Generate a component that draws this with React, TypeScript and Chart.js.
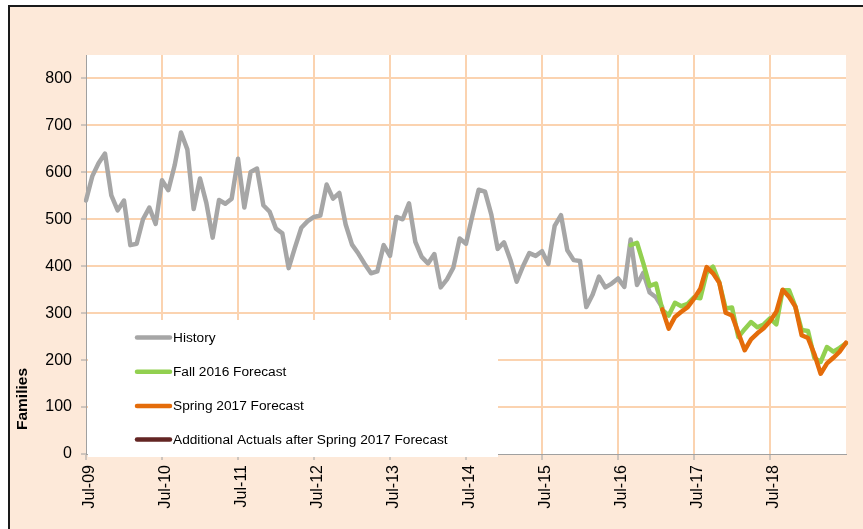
import React, { useEffect, useRef } from 'react';
import { Chart, registerables } from 'chart.js';

Chart.register(...registerables);

// ---------- DATA ----------
const MONTH_NAMES = ['Jan', 'Feb', 'Mar', 'Apr', 'May', 'Jun', 'Jul', 'Aug', 'Sep', 'Oct', 'Nov', 'Dec'];
// Monthly categories Jul-09 .. Jul-19
const categories: string[] = [];
for (let i = 0; i <= 120; i++) {
  const m = (6 + i) % 12;
  const y = 9 + Math.floor((6 + i) / 12);
  categories.push(`${MONTH_NAMES[m]}-${String(y).padStart(2, '0')}`);
}

const xTickLabels = ['Jul-09', 'Jul-10', 'Jul-11', 'Jul-12', 'Jul-13', 'Jul-14', 'Jul-15', 'Jul-16', 'Jul-17', 'Jul-18'];
const yTickValues = [0, 100, 200, 300, 400, 500, 600, 700, 800];

// History: Jul-09 .. Feb-17
const historyStart = 0;
const historyValues = [
  540, 592, 620, 640, 551, 519, 540, 445, 448, 500, 525, 490,
  583, 562, 615, 685, 649, 522, 587, 535, 461, 541, 533, 544,
  629, 525, 601, 608, 530, 516, 480, 470, 396, 440, 482, 496,
  505, 508, 574, 544, 556, 489, 446, 427, 405, 385, 389, 445,
  422, 505, 500, 534, 452, 420, 406, 426, 355, 372, 397, 459,
  448, 507, 563, 559, 510, 437, 451, 414, 367, 400, 428, 422,
  432, 405, 486, 509, 434, 413, 411, 313, 340, 378, 355, 363,
  374, 356, 457, 360, 386, 344, 334, 312,
];

// Fall 2016 Forecast: Sep-16 .. Jul-19
const fallStart = 86;
const fallValues = [
  445, 450, 406, 358, 363, 307, 295, 322, 315, 320, 334, 332,
  386, 399, 365, 310, 312, 249, 266, 281, 270, 276, 289, 276,
  349, 349, 314, 264, 262, 205, 196, 228, 218, 226, 236,
];

// Spring 2017 Forecast: Feb-17 .. Jul-19
const springStart = 91;
const springValues = [
  308, 267, 292, 303, 313, 331, 352, 398, 385, 365, 301, 295,
  258, 221, 244, 257, 268, 283, 303, 350, 335, 314, 253, 247,
  213, 171, 193, 205, 218, 237,
];

// Additional Actuals after Spring 2017 Forecast (none shown)
const additionalStart = 0;
const additionalValues: number[] = [];

function place(start: number, values: number[]): (number | null)[] {
  const out: (number | null)[] = categories.map(() => null);
  values.forEach((v, i) => {
    out[start + i] = v;
  });
  return out;
}

// ---------- STYLE ----------
const FONT = "'Liberation Sans', Arial, sans-serif";
const GRID = '#FBD3B0';
const AXIS = '#A0A0A0';

const bgPlugin = {
  id: 'plotBg',
  beforeDraw(chart: any) {
    const { ctx, chartArea } = chart;
    ctx.save();
    ctx.fillStyle = '#ffffff';
    ctx.fillRect(chartArea.left, chartArea.top, chartArea.right - chartArea.left, chartArea.bottom - chartArea.top);
    ctx.restore();
  },
};

const overlayPlugin = {
  id: 'overlay',
  afterDraw(chart: any) {
    const { ctx, chartArea } = chart;
    ctx.save();
    // legend box inside the plot
    const bx = chartArea.left + 2;
    const by = 313;
    const bw = 410;
    const bh = chartArea.bottom + 3 - by;
    ctx.fillStyle = '#ffffff';
    ctx.fillRect(bx, by, bw, bh);
    const rowY = [330.5, 364.8, 399, 432.5];
    chart.data.datasets.forEach((ds: any, i: number) => {
      const y = rowY[i];
      ctx.strokeStyle = ds.borderColor;
      ctx.lineWidth = 4.5;
      ctx.lineCap = 'round';
      ctx.beginPath();
      ctx.moveTo(chartArea.left + 51, y);
      ctx.lineTo(chartArea.left + 84, y);
      ctx.stroke();
      ctx.fillStyle = '#000';
      ctx.font = `13.7px ${FONT}`;
      ctx.textAlign = 'left';
      ctx.textBaseline = 'middle';
      ctx.fillText(ds.label, chartArea.left + 87, y + 0.5);
    });
    // y-axis title
    ctx.translate(12.5, 392);
    ctx.rotate(-Math.PI / 2);
    ctx.font = `bold 15.5px ${FONT}`;
    ctx.fillStyle = '#000';
    ctx.textAlign = 'center';
    ctx.textBaseline = 'middle';
    ctx.fillText('Families', 0, 0);
    ctx.restore();
  },
};

export default function App() {
  const ref = useRef<HTMLCanvasElement>(null);

  useEffect(() => {
    document.documentElement.style.overflow = 'hidden';
    const lineStyle = {
      borderWidth: 4.5,
      pointRadius: 0,
      pointHoverRadius: 0,
      tension: 0,
      fill: false,
      spanGaps: false,
      borderJoinStyle: 'round' as const,
      borderCapStyle: 'round' as const,
    };
    const chart = new Chart(ref.current as HTMLCanvasElement, {
      type: 'line',
      data: {
        labels: categories,
        datasets: [
          { label: 'History', data: place(historyStart, historyValues), borderColor: '#A6A6A6', backgroundColor: '#A6A6A6', order: 3, ...lineStyle },
          { label: 'Fall 2016 Forecast', data: place(fallStart, fallValues), borderColor: '#92D050', backgroundColor: '#92D050', order: 2, ...lineStyle },
          { label: 'Spring 2017 Forecast', data: place(springStart, springValues), borderColor: '#E46C0A', backgroundColor: '#E46C0A', order: 1, ...lineStyle },
          { label: 'Additional Actuals after Spring 2017 Forecast', data: place(additionalStart, additionalValues), borderColor: '#632523', backgroundColor: '#632523', order: 0, ...lineStyle },
        ],
      },
      options: {
        animation: false,
        responsive: false,
        maintainAspectRatio: false,
        layout: { padding: { left: 0, right: 30, top: 48, bottom: 0 } },
        plugins: {
          legend: { display: false },
          tooltip: { enabled: false },
          title: { display: false },
        },
        scales: {
          x: {
            type: 'category',
            offset: false,
            afterBuildTicks: (scale: any) => {
              scale.ticks = scale.ticks.filter((t: any) => t.value % 12 === 0);
            },
            afterFit: (scale: any) => {
              scale.height = 83;
            },
            grid: {
              display: true,
              color: (c: any) => (c.tick && c.tick.value === 0 ? 'rgba(0,0,0,0)' : GRID),
              lineWidth: 2,
              drawTicks: true,
              tickLength: 6,
              tickColor: AXIS,
              tickWidth: 1,
            },
            border: { display: true, color: AXIS, width: 1 },
            ticks: {
              autoSkip: false,
              minRotation: 90,
              maxRotation: 90,
              labelOffset: 4,
              padding: 5,
              color: '#000',
              font: { family: FONT, size: 16 },
              callback: (value: any) => {
                const v = Number(value);
                return v % 12 === 0 && v < 120 ? xTickLabels[v / 12] : null;
              },
            },
          },
          y: {
            type: 'linear',
            min: 0,
            max: 850,
            afterBuildTicks: (scale: any) => {
              scale.ticks = yTickValues.map((v) => ({ value: v }));
            },
            afterFit: (scale: any) => {
              scale.width = 76;
            },
            grid: {
              color: (c: any) => (c.tick && c.tick.value === 0 ? 'rgba(0,0,0,0)' : GRID),
              lineWidth: 2,
              drawTicks: true,
              tickLength: 5,
              tickColor: AXIS,
              tickWidth: 1,
            },
            border: { display: true, color: AXIS, width: 1 },
            ticks: {
              padding: 9,
              color: '#000',
              font: { family: FONT, size: 16 },
            },
          },
        },
      },
      plugins: [bgPlugin, overlayPlugin],
    } as any);
    return () => chart.destroy();
  }, []);

  return (
    <div
      style={{
        position: 'fixed',
        left: 8,
        top: 5,
        width: 866,
        height: 536,
        border: '2px solid #1a1a1a',
        background: '#FDE9D9',
        overflow: 'hidden',
      }}
    >
      <canvas ref={ref} width={866} height={530} style={{ display: 'block', width: 866, height: 530 }} />
    </div>
  );
}
